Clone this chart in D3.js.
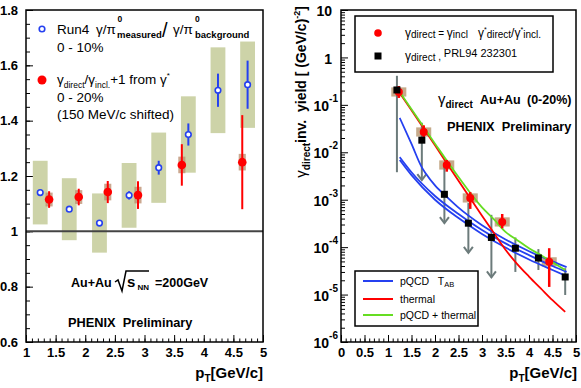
<!DOCTYPE html>
<html>
<head>
<meta charset="utf-8">
<script src="https://cdn.jsdelivr.net/npm/d3@7"></script>
<style>
body { margin: 0; background: #fff; }
svg text { font-family: "Liberation Sans", Arial, Helvetica, sans-serif; fill: #000; }
.pre { white-space: pre; }
</style>
</head>
<body>
<div id="chart"></div>
<script>
// ---- left panel data: gamma/pi0 double ratio ----
var run4Pt = [1.24, 1.73, 2.24, 2.74, 3.24, 3.74, 4.24, 4.74]
var run4Ratio = [1.14, 1.08, 1.03, 1.13, 1.23, 1.35, 1.51, 1.53]
var run4Stat = [0.01, 0.01, 0.01, 0.015, 0.025, 0.04, 0.06, 0.087]
var run4Sys = [0.115, 0.112, 0.107, 0.117, 0.127, 0.138, 0.155, 0.156]

var virtPt = [1.39, 1.89, 2.38, 2.89, 3.63, 4.65]
var virtRatio = [1.115, 1.124, 1.142, 1.131, 1.24, 1.25]
var virtStat = [0.03, 0.03, 0.04, 0.05, 0.075, 0.17]
var virtSys = [0.025, 0.025, 0.03, 0.03, 0.03, 0.03]

var leftXTicks = [1, 1.5, 2, 2.5, 3, 3.5, 4, 4.5, 5]
var leftYTicks = [0.6, 0.8, 1, 1.2, 1.4, 1.6, 1.8]

// ---- right panel data: direct photon invariant yield ----
var dirPt = [1.23, 1.76, 2.25, 2.75, 3.43, 4.43]
var dirYield = [0.187, 0.0268, 0.0054, 1.09e-3, 3.4e-4, 4.9e-5]
var dirHi = [0.25, 0.037, 6.9e-3, 1.45e-3, 5.0e-4, 9.5e-5]
var dirLo = [0.14, 0.020, 3.9e-3, 6.4e-4, 2.5e-4, 1.45e-5]

var prlPt = [1.19, 1.72, 2.2, 2.71, 3.2, 3.71, 4.2, 4.77]
var prlYield = [0.206, 0.018, 1.3e-3, 3.2e-4, 1.6e-4, 9.5e-5, 5.9e-5, 2.35e-5]
var prlHi = [0.41, 0.042, 5.9e-3, 8.5e-4, 4.8e-4, 1.6e-4, 9.1e-5, 3.6e-5]
var prlLo = [3.8e-3, 2.6e-3, 3.2e-4, 7.6e-5, 2.3e-5, 3.0e-5, 3.3e-5, 9.8e-6]
var prlLimit = [false, true, true, true, true, false, false, false]

var pqcdPt = [1.25, 1.5, 2.0, 2.5, 3.0, 3.5, 4.0, 4.5, 4.8]
var pqcdMid = [7.9e-3, 3.8e-3, 1.2e-3, 5.0e-4, 2.3e-4, 1.2e-4, 6.8e-5, 4.0e-5, 3.0e-5]
var pqcdLow = [6.9e-3, 3.3e-3, 1.0e-3, 4.1e-4, 1.9e-4, 9.8e-5, 5.5e-5, 3.3e-5, 2.45e-5]
var pqcdTopPt = [1.25, 1.5, 1.72, 1.8, 2.0, 2.27, 2.5, 3.0, 3.5, 4.0, 4.5, 4.8]
var pqcdTop = [0.053, 0.015, 4.8e-3, 3.6e-3, 2.0e-3, 1.1e-3, 6.8e-4, 2.9e-4, 1.45e-4, 8.2e-5, 5.0e-5, 3.8e-5]

var thermPt = [1.23, 1.5, 2.0, 2.5, 3.0, 3.25, 3.5, 3.75, 4.0, 4.25, 4.5, 4.77]
var thermal = [0.19, 0.077, 0.014, 2.5e-3, 4.6e-4, 2.0e-4, 8.8e-5, 4.4e-5, 2.4e-5, 1.35e-5, 7.6e-6, 4.3e-6]
var sumTh = [0.2, 0.081, 0.0152, 3.0e-3, 6.9e-4, 3.9e-4, 2.1e-4, 1.4e-4, 9.5e-5, 6.8e-5, 4.8e-5, 3.3e-5]

var rightXTicks = [0, 0.5, 1, 1.5, 2, 2.5, 3, 3.5, 4, 4.5, 5]
var rightYTicks = [1e-6, 1e-5, 1e-4, 1e-3, 1e-2, 1e-1, 1, 10]
var rightYLabels = [["10", "-6"], ["10", "-5"], ["10", "-4"], ["10", "-3"], ["10", "-2"], ["10", "-1"], ["1", ""], ["10", ""]]

var width = 581
var height = 388
var blue = "#2540f0", red = "#ff0000", green = "#66dd22", gray = "#6c7b7b"

var svg = d3.select("#chart")
    .append("svg")
    .attr("width", width)
    .attr("height", height)

function styleAxis(g) {
    g.select(".domain").remove()
    g.selectAll(".tick line").attr("stroke", "#000").attr("stroke-width", 1)
    g.selectAll("text").style("font-size", "13px").style("font-weight", "bold").attr("fill", "#000")
}

function mainText(x, y, parts, anchor) {
    // parts: [text, size, dy, weight]
    var t = svg.append("text").attr("x", x).attr("y", y).attr("class", "pre")
        .attr("text-anchor", anchor || "start")
    parts.forEach(function (p) {
        t.append("tspan").text(p[0]).style("font-size", p[1] + "px")
            .attr("dy", p[2] || 0).style("font-weight", p[3] || "normal")
    })
    return t
}

// =================== LEFT PANEL ===================
var xL = d3.scaleLinear().domain([1, 5]).range([26, 263])
var yL = d3.scaleLinear().domain([0.6, 1.8]).range([342, 10])
var left = svg.append("g")

// minor + major ticks, pointing inside the frame
left.append("g").attr("transform", "translate(0,342)")
    .call(d3.axisBottom(xL).tickValues(d3.range(1, 5.001, 0.1)).tickSize(-3.5).tickFormat(""))
    .call(styleAxis)
left.append("g").attr("transform", "translate(0,342)")
    .call(d3.axisBottom(xL).tickValues(leftXTicks).tickSize(-7).tickPadding(6).tickFormat(function (d) { return String(d) }))
    .call(styleAxis)
left.append("g").attr("transform", "translate(26,0)")
    .call(d3.axisLeft(yL).tickValues(d3.range(0.6, 1.8001, 0.05)).tickSize(-4).tickFormat(""))
    .call(styleAxis)
left.append("g").attr("transform", "translate(26,0)")
    .call(d3.axisLeft(yL).tickValues(leftYTicks).tickSize(-7).tickPadding(8).tickFormat(function (d) { return String(d) }))
    .call(styleAxis)

// systematic boxes for Run4
left.append("g").selectAll("rect").data(run4Pt).join("rect")
    .attr("x", function (d) { return xL(d - 0.125) })
    .attr("width", function (d) { return xL(d + 0.125) - xL(d - 0.125) })
    .attr("y", function (d, i) { return yL(run4Ratio[i] + run4Sys[i]) })
    .attr("height", function (d, i) { return yL(run4Ratio[i] - run4Sys[i]) - yL(run4Ratio[i] + run4Sys[i]) })
    .attr("fill", "#cdd3a8")

// line at 1
left.append("line").attr("x1", xL(1)).attr("x2", xL(5)).attr("y1", yL(1)).attr("y2", yL(1))
    .attr("stroke", "#444").attr("stroke-width", 2)

// virtual photon systematic boxes
left.append("g").selectAll("rect").data(virtPt).join("rect")
    .attr("x", function (d) { return xL(d - 0.06) })
    .attr("width", function (d) { return xL(d + 0.06) - xL(d - 0.06) })
    .attr("y", function (d, i) { return yL(virtRatio[i] + virtSys[i]) })
    .attr("height", function (d, i) { return yL(virtRatio[i] - virtSys[i]) - yL(virtRatio[i] + virtSys[i]) })
    .attr("fill", "#b98a6a").attr("opacity", 0.75)

left.append("g").selectAll("line").data(virtPt).join("line")
    .attr("x1", function (d) { return xL(d) }).attr("x2", function (d) { return xL(d) })
    .attr("y1", function (d, i) { return yL(virtRatio[i] + virtStat[i]) })
    .attr("y2", function (d, i) { return yL(virtRatio[i] - virtStat[i]) })
    .attr("stroke", red).attr("stroke-width", 2)
left.append("g").selectAll("circle").data(virtPt).join("circle")
    .attr("cx", function (d) { return xL(d) }).attr("cy", function (d, i) { return yL(virtRatio[i]) })
    .attr("r", 4.3).attr("fill", red)

left.append("g").selectAll("line").data(run4Pt).join("line")
    .attr("x1", function (d) { return xL(d) }).attr("x2", function (d) { return xL(d) })
    .attr("y1", function (d, i) { return yL(run4Ratio[i] + run4Stat[i]) })
    .attr("y2", function (d, i) { return yL(run4Ratio[i] - run4Stat[i]) })
    .attr("stroke", blue).attr("stroke-width", 2)
left.append("g").selectAll("circle").data(run4Pt).join("circle")
    .attr("cx", function (d) { return xL(d) }).attr("cy", function (d, i) { return yL(run4Ratio[i]) })
    .attr("r", 2.8).attr("fill", "#fff").attr("stroke", blue).attr("stroke-width", 1.6)

left.append("rect").attr("x", 26).attr("y", 10).attr("width", 237).attr("height", 332)
    .attr("fill", "none").attr("stroke", "#000").attr("stroke-width", 1.5)

// left legend
svg.append("circle").attr("cx", 42).attr("cy", 29).attr("r", 2.8).attr("fill", "#fff").attr("stroke", blue).attr("stroke-width", 1.6)
mainText(57, 34, [["Run4", 13.5]])
mainText(96, 34, [["γ/π", 13.5]])
mainText(117.5, 22, [["0", 8.5, 0, "bold"]])
mainText(117, 38, [["measured", 9.5, 0, "bold"]])
mainText(162, 37, [["/", 20]])
mainText(173, 34, [["γ/π", 13.5]])
mainText(195, 22, [["0", 8.5, 0, "bold"]])
mainText(195, 38, [["background", 9.5, 0, "bold"]])
mainText(57, 52, [["0 - 10%", 13.5]])

svg.append("circle").attr("cx", 42).attr("cy", 80).attr("r", 4.5).attr("fill", red)
mainText(57, 84, [["γ", 13.5], ["direct", 8.5, 4], ["/γ", 13.5, -4], ["incl.", 8.5, 4], ["+1 from γ", 13.5, -4], ["*", 8, -6]])
mainText(57, 102, [["0 - 20%", 13.5]])
mainText(57, 119, [["(150 MeV/c shifted)", 13.5]])

// Au+Au sqrt(sNN)
mainText(71, 287, [["Au+Au", 12.5, 0, "bold"]])
svg.append("path").attr("d", "M115,282 L118,280 L122,291 L126,271 L149,271")
    .attr("fill", "none").attr("stroke", "#000").attr("stroke-width", 1.5)
mainText(127, 287, [["s", 15, 0, "bold"]])
mainText(137.5, 290, [["NN", 8, 0, "bold"]])
mainText(155, 287, [["=200GeV", 12.5, 0, "bold"]])
mainText(68, 327, [["PHENIX  Preliminary", 12.8, 0, "bold"]])

mainText(263, 378, [["p", 15, 0, "bold"], ["T", 10, 4, "bold"], ["[GeV/c]", 15, -4, "bold"]], "end")

// =================== RIGHT PANEL ===================
var xR = d3.scaleLinear().domain([0, 5]).range([341, 576])
var yR = d3.scaleLog().domain([1e-6, 10]).range([342, 10])
var right = svg.append("g")

var minorLog = []
rightYTicks.slice(0, -1).forEach(function (d) {
    for (var k = 2; k <= 9; k++) minorLog.push(d * k)
})

right.append("g").attr("transform", "translate(0,342)")
    .call(d3.axisBottom(xR).tickValues(d3.range(0, 5.001, 0.1)).tickSize(-3.5).tickFormat(""))
    .call(styleAxis)
right.append("g").attr("transform", "translate(0,342)")
    .call(d3.axisBottom(xR).tickValues(rightXTicks).tickSize(-7).tickPadding(6).tickFormat(function (d) { return String(d) }))
    .call(styleAxis)
right.append("g").attr("transform", "translate(341,0)")
    .call(d3.axisLeft(yR).tickValues(minorLog).tickSize(-4).tickFormat(""))
    .call(styleAxis)
var yAxR = right.append("g").attr("transform", "translate(341,0)")
    .call(d3.axisLeft(yR).tickValues(rightYTicks).tickSize(-7).tickPadding(9).tickFormat(""))
    .call(styleAxis)
yAxR.selectAll(".tick text").each(function (d, i) {
    var lab = rightYLabels[i]
    var t = d3.select(this)
    t.attr("dy", "0.4em").style("font-size", "14px")
    t.append("tspan").text(lab[0])
    if (lab[1]) {
        t.attr("x", -3)
        t.append("tspan").text(lab[1]).style("font-size", "10px").attr("dy", "-0.9em")
    }
})

// systematic boxes of virtual photon yield
right.append("g").selectAll("rect").data(dirPt).join("rect")
    .attr("x", function (d) { return xR(d - 0.16) })
    .attr("width", function (d) { return xR(d + 0.16) - xR(d - 0.16) })
    .attr("y", function (d, i) { return yR(dirYield[i] * 1.25) })
    .attr("height", function (d, i) { return yR(dirYield[i] / 1.25) - yR(dirYield[i] * 1.25) })
    .attr("fill", "#c5aa8a")

// PRL94 error bars and upper limits
right.append("g").selectAll("line").data(prlPt).join("line")
    .attr("x1", function (d) { return xR(d) }).attr("x2", function (d) { return xR(d) })
    .attr("y1", function (d, i) { return yR(prlHi[i]) })
    .attr("y2", function (d, i) { return yR(prlLo[i]) })
    .attr("stroke", gray).attr("stroke-width", 2)
right.append("g").selectAll("path").data(prlPt.filter(function (d, i) { return prlLimit[i] })).join("path")
    .attr("d", function (d) {
        var i = prlPt.indexOf(d)
        var x = xR(d), y = yR(prlLo[i])
        return "M" + (x - 4.5) + "," + (y - 6) + " L" + x + "," + y + " L" + (x + 4.5) + "," + (y - 6)
    })
    .attr("fill", "none").attr("stroke", gray).attr("stroke-width", 2)

// theory curves
var curve = d3.line().curve(d3.curveMonotoneX)
function drawCurve(xs, ys, color) {
    right.append("path")
        .attr("d", curve(xs.map(function (d, i) { return [xR(d), yR(ys[i])] })))
        .attr("fill", "none").attr("stroke", color).attr("stroke-width", 1.8)
}
drawCurve(pqcdPt, pqcdLow, blue)
drawCurve(pqcdPt, pqcdMid, blue)
drawCurve(pqcdTopPt, pqcdTop, blue)
drawCurve(thermPt, thermal, red)
drawCurve(thermPt, sumTh, green)

// virtual photon data
right.append("g").selectAll("line").data(dirPt).join("line")
    .attr("x1", function (d) { return xR(d) }).attr("x2", function (d) { return xR(d) })
    .attr("y1", function (d, i) { return yR(dirHi[i]) })
    .attr("y2", function (d, i) { return yR(dirLo[i]) })
    .attr("stroke", red).attr("stroke-width", 2.5)
right.append("g").selectAll("circle").data(dirPt).join("circle")
    .attr("cx", function (d) { return xR(d) }).attr("cy", function (d, i) { return yR(dirYield[i]) })
    .attr("r", 4).attr("fill", red)

right.append("g").selectAll("rect").data(prlPt).join("rect")
    .attr("x", function (d) { return xR(d) - 3.5 }).attr("y", function (d, i) { return yR(prlYield[i]) - 3.5 })
    .attr("width", 7).attr("height", 7).attr("fill", "#000")

right.append("rect").attr("x", 341).attr("y", 10).attr("width", 235).attr("height", 332)
    .attr("fill", "none").attr("stroke", "#000").attr("stroke-width", 1.5)

// top legend
svg.append("rect").attr("x", 355).attr("y", 16).attr("width", 198).attr("height", 56)
    .attr("fill", "#fff").attr("stroke", "#000").attr("stroke-width", 1.5)
svg.append("circle").attr("cx", 378).attr("cy", 33).attr("r", 3.8).attr("fill", red)
mainText(405, 37, [["γ", 12], ["direct", 10, 1], [" = ", 10, -1], ["γ", 12], ["incl", 10, 1], ["   γ", 12, -1], ["*", 7, -5],
    ["direct", 10, 6], ["/γ", 12, -1], ["*", 7, -5], ["incl.", 10, 6]])
svg.append("rect").attr("x", 374.5).attr("y", 52.5).attr("width", 7).attr("height", 7).attr("fill", "#000")
mainText(405, 60, [["γ", 12], ["direct", 10, 1], [" , ", 10, -1], ["PRL94 232301", 11, -3]])

mainText(438, 104, [["γ", 15], ["direct", 10, 4, "bold"]])
mainText(480, 104, [["Au+Au", 12.5, 0, "bold"]])
mainText(527, 104, [["(0-20%)", 12.5, 0, "bold"]])
mainText(447, 131, [["PHENIX  Preliminary", 12.8, 0, "bold"]])

// bottom legend
svg.append("rect").attr("x", 355).attr("y", 271).attr("width", 123).attr("height", 55)
    .attr("fill", "#fff").attr("stroke", "#000").attr("stroke-width", 1.5)
var legLines = [[blue, 281], [red, 299], [green, 315]]
legLines.forEach(function (l) {
    svg.append("line").attr("x1", 363).attr("x2", 393).attr("y1", l[1]).attr("y2", l[1])
        .attr("stroke", l[0]).attr("stroke-width", 2)
})
mainText(400, 285, [["pQCD   T", 10.5], ["AB", 7.5, 2]])
mainText(400, 303, [["thermal", 10.5]])
mainText(400, 319, [["pQCD + thermal", 10.5]])

mainText(577, 378, [["p", 15, 0, "bold"], ["T", 10, 4, "bold"], ["[GeV/c]", 15, -4, "bold"]], "end")

// rotated y title
var yt = svg.append("text").attr("class", "pre").attr("text-anchor", "end")
    .attr("transform", "translate(306,6) rotate(-90)")
yt.append("tspan").text("γ").style("font-size", "15px")
yt.append("tspan").text("direct").style("font-size", "10px").style("font-weight", "bold").attr("dy", 4)
yt.append("tspan").text("inv.  yield [ (GeV/c)").style("font-size", "14px").style("font-weight", "bold").attr("dy", -4)
yt.append("tspan").text("-2").style("font-size", "9px").style("font-weight", "bold").attr("dy", -6)
yt.append("tspan").text("]").style("font-size", "14px").style("font-weight", "bold").attr("dy", 6)
</script>
</body>
</html>
